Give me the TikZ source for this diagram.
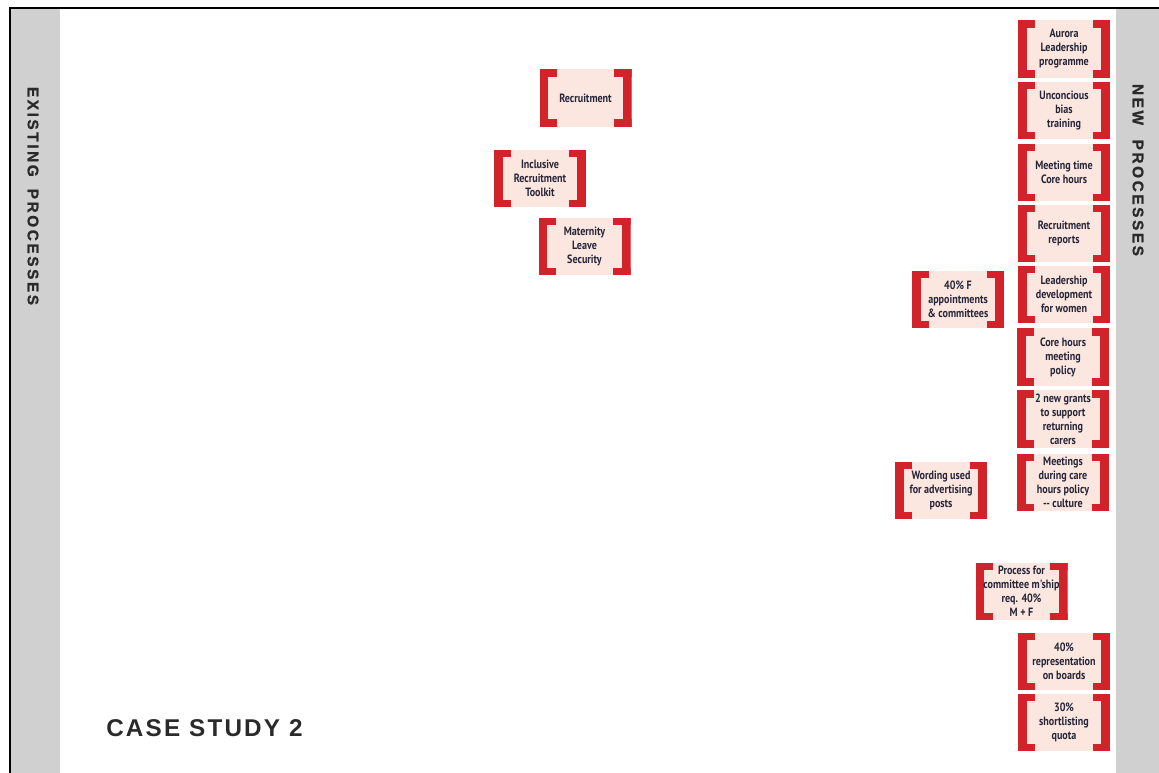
\documentclass[tikz,border=0pt]{standalone}
\usepackage{fontspec}
\newfontfamily\boxfont{PT Sans}[FakeStretch=0.84]
\newfontfamily\sidefont{Liberation Sans Bold}[LetterSpace=17,FakeBold=1.2]
\newfontfamily\titlefont{Liberation Sans}[LetterSpace=9]
\definecolor{boxpink}{HTML}{FBE6E0}
\definecolor{brkred}{HTML}{D2232A}
\definecolor{boxtext}{HTML}{262638}
\definecolor{sidegray}{HTML}{D0D0D0}
\definecolor{sidetext}{HTML}{2A2A2A}
\tikzset{
  pbox/.style={fill=boxpink, minimum width=69pt, minimum height=43pt, inner sep=0pt,
    align=center, text=boxtext, font=\boxfont\bfseries\fontsize{9}{10.5}\selectfont,
    path picture={
      \fill[brkred] (path picture bounding box.north west) rectangle ([xshift=6.4pt]path picture bounding box.south west);
      \fill[brkred] (path picture bounding box.north west) rectangle ([xshift=13pt,yshift=-5.4pt]path picture bounding box.north west);
      \fill[brkred] (path picture bounding box.south west) rectangle ([xshift=13pt,yshift=5.4pt]path picture bounding box.south west);
      \fill[brkred] (path picture bounding box.north east) rectangle ([xshift=-6.4pt]path picture bounding box.south east);
      \fill[brkred] (path picture bounding box.north east) rectangle ([xshift=-13pt,yshift=-5.4pt]path picture bounding box.north east);
      \fill[brkred] (path picture bounding box.south east) rectangle ([xshift=-13pt,yshift=5.4pt]path picture bounding box.south east);
    }},
  sidelabel/.style={text=sidetext, font=\sidefont\fontsize{11.5}{12}\selectfont, inner sep=0pt},
}
\begin{document}
\begin{tikzpicture}[x=0.75pt,y=-0.75pt]
\useasboundingbox (0,0) rectangle (1159,773);
% side bars
\fill[sidegray] (11,9) rectangle (60,773);
\fill[sidegray] (1116,9) rectangle (1159,773);
\draw[line width=1.5pt] (10,773) -- (10,8) -- (1159,8);
\node[sidelabel, rotate=-90] (existing) at (33,196) {EXISTING\hspace{9pt}PROCESSES};
\node[sidelabel, rotate=-90] (new) at (1138,170) {NEW\hspace{11pt}PROCESSES};
\node[anchor=west, inner sep=0pt, text=sidetext, font=\titlefont\bfseries\fontsize{18.2}{20}\selectfont] (title) at (106,728) {CASE STUDY 2};
% existing processes
\node[pbox] (recruit) at (585.5,98) {Recruitment};
\node[pbox] (toolkit) at (540,178.5) {Inclusive\\Recruitment\\Toolkit};
\node[pbox] (maternity) at (584.5,246.5) {Maternity\\Leave\\Security};
% new processes column
\node[pbox] (aurora) at (1064,49) {Aurora\\Leadership\\programme};
\node[pbox] (bias) at (1064,110.5) {Unconcious\\bias\\training};
\node[pbox] (meettime) at (1064,172.5) {Meeting time\\Core hours};
\node[pbox] (reports) at (1064,233.5) {Recruitment\\reports};
\node[pbox] (leaddev) at (1064,294.5) {Leadership\\development\\for women};
\node[pbox] (corehours) at (1063,357) {Core hours\\meeting\\policy};
\node[pbox] (grants) at (1063,419) {2 new grants\\to support\\returning\\carers};
\node[pbox] (meetcare) at (1063,482.5) {Meetings\\during care\\hours policy\\-- culture};
\node[pbox] (fortyF) at (958,299.5) {40\% F\\appointments\\\& committees};
\node[pbox] (wording) at (941,490.5) {Wording used\\for advertising\\posts};
\node[pbox] (process) at (1021.5,591.5) {Process for\\committee m'ship\\req. 40\%\\M + F};
\node[pbox] (boards) at (1064,661.5) {40\%\\representation\\on boards};
\node[pbox] (shortlist) at (1064,722.5) {30\%\\shortlisting\\quota};
\end{tikzpicture}
\end{document}
